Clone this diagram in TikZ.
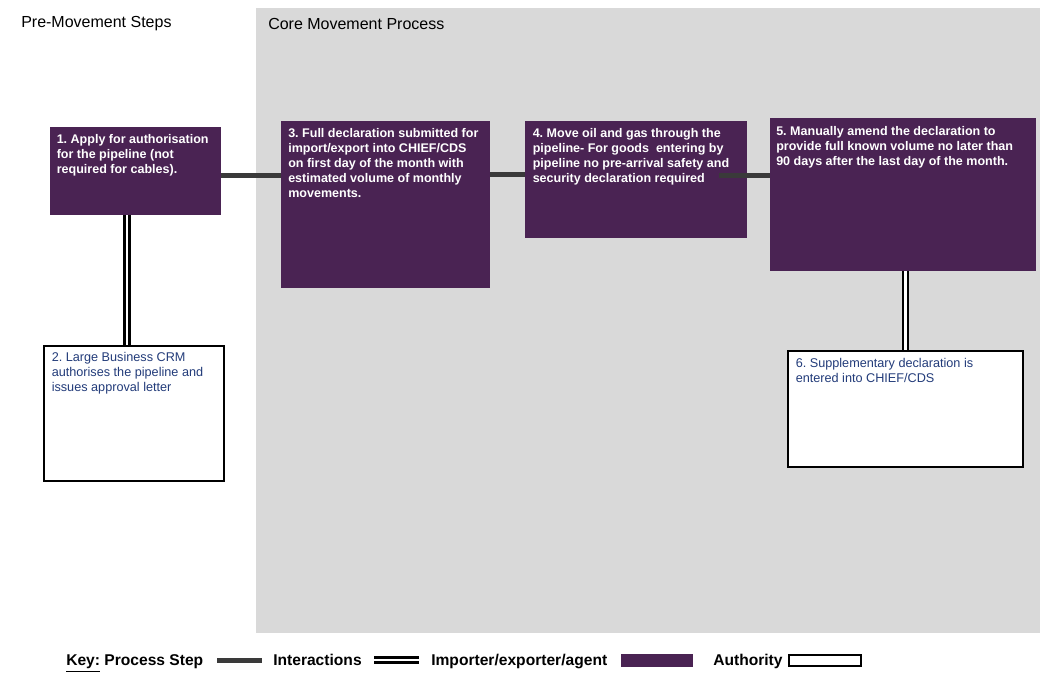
\documentclass[tikz,border=0pt]{standalone}
\usepackage{fontspec}
\setmainfont{Liberation Sans}
\usetikzlibrary{fit}
\frenchspacing
\definecolor{purp}{HTML}{4A2353}
\definecolor{bgc}{HTML}{D9D9D9}
\definecolor{lnc}{HTML}{3A3A3A}
\definecolor{blc}{HTML}{233C7A}
\tikzset{
  proc/.style={fill=purp, draw=none, inner sep=0pt},
  auth/.style={fill=white, draw=black, line width=1.1pt, inner sep=0pt},
  ptext/.style={anchor=north west, inner sep=0pt, align=left, text=white, font=\fontsize{9.4}{11.3}\selectfont\bfseries},
  atext/.style={anchor=north west, inner sep=0pt, align=left, text=blc, font=\fontsize{9.5}{11.4}\selectfont},
  interact/.style={draw=lnc, line width=3.75pt},
  dbl/.style={draw=black, line width=1.9pt, double=white, double distance=1.9pt},
  heading/.style={anchor=west, inner sep=0pt, font=\fontsize{12}{14}\selectfont},
  keytext/.style={anchor=west, inner sep=0pt, text height=9pt, text depth=2.5pt, font=\fontsize{11.7}{14}\selectfont\bfseries},
}
\begin{document}
\begin{tikzpicture}[x=0.75pt, y=-0.75pt]
\useasboundingbox (0,0) rectangle (1040,675);
% background panel
\node[fill=bgc, draw=none, inner sep=0pt, fit={(256,8) (1040,633)}] (panel) {};
\node[heading] (h1) at (21,24) {Pre-Movement Steps};
\node[heading] (h2) at (268,24) {Core Movement Process};

% boxes
\node[proc, fit={(50,127) (221,215)}] (b1) {};
\node[proc, fit={(281,121) (490,288)}] (b3) {};
\node[proc, fit={(525,121) (747,238)}] (b4) {};
\node[proc, fit={(770,118) (1036,271)}] (b5) {};
\node[auth, fit={(44,346) (224,481)}] (b2) {};
\node[auth, fit={(788,351) (1023,467)}] (b6) {};

% texts
\node[ptext] (t1) at (56.5,134) {1. Apply for authorisation\\for the pipeline (not\\required for cables).};
\node[ptext] (t3) at (288,128) {3. Full declaration submitted for\\import/export into CHIEF/CDS\\on first day of the month with\\estimated volume of monthly\\movements.};
\node[ptext] (t4) at (532.5,128) {4. Move oil and gas through the\\pipeline- For goods\ \ entering by\\pipeline no pre-arrival safety and\\security declaration required};
\node[ptext] (t5) at (776,126) {5. Manually amend the declaration to\\provide full known volume no later than\\90 days after the last day of the month.};
\node[atext] (t2) at (51.5,352) {2. Large Business CRM\\authorises the pipeline and\\issues approval letter};
\node[atext] (t6) at (795.5,358) {6. Supplementary declaration is\\entered into CHIEF/CDS};

% connector helper coordinates
\coordinate (y1) at (0,175);
\coordinate (y2) at (0,174);
\coordinate (c45) at (719,175);
\coordinate (x12) at (127,0);
\coordinate (x56) at (905.5,0);

% interactions
\draw[interact] (b1.east |- y1) -- (b3.west |- y1);
\draw[interact] (b3.east |- y2) -- (b4.west |- y2);
\draw[interact] (c45) -- (b5.west |- c45);
% importer/authority links
\draw[dbl] (b1.south -| x12) -- (b2.north -| x12);
\draw[dbl] (b5.south -| x56) -- (b6.north -| x56);

% key
\node[keytext] (k1) at (66,661.5) {\underline{Key:} Process Step};
\coordinate (k2a) at (217,660);
\coordinate (k2b) at (262,660);
\draw[interact] (k2a) -- (k2b);
\node[keytext] (k3) at (273,661.5) {Interactions};
\coordinate (k4a) at (374,660);
\coordinate (k4b) at (419,660);
\draw[dbl] (k4a) -- (k4b);
\node[keytext] (k5) at (431,661.5) {Importer/exporter/agent};
\node[proc, fit={(621,654) (693,667)}] (k6) {};
\node[keytext] (k7) at (713,661.5) {Authority};
\node[auth, fit={(789,655) (861,666)}] (k8) {};
\end{tikzpicture}
\end{document}
